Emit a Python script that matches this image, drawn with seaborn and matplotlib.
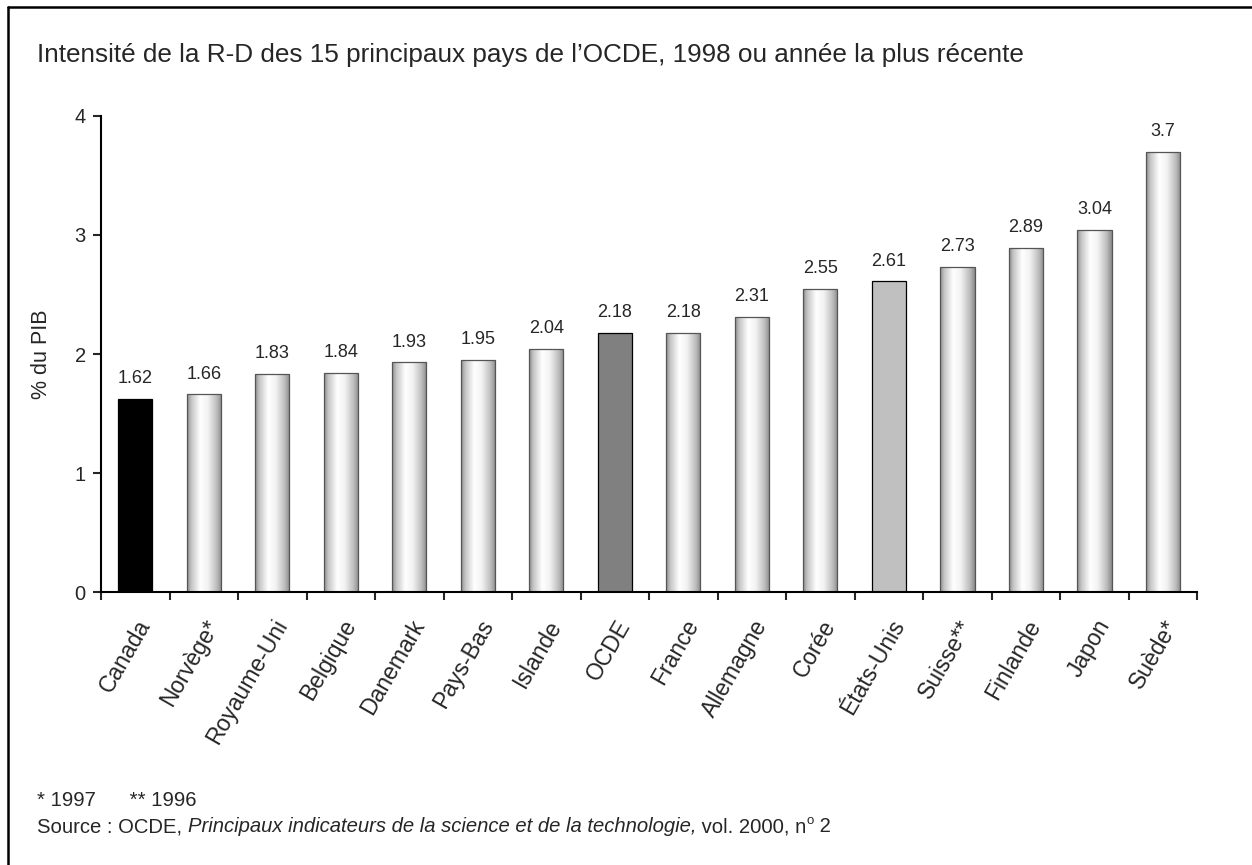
import numpy as np
import matplotlib
matplotlib.use("Agg")
import matplotlib.pyplot as plt
import seaborn as sns
from matplotlib.colors import LinearSegmentedColormap
from matplotlib.lines import Line2D

# Data
countries = ["Canada", "Norvège*", "Royaume-Uni", "Belgique", "Danemark", "Pays-Bas",
             "Islande", "OCDE", "France", "Allemagne", "Corée", "États-Unis",
             "Suisse**", "Finlande", "Japon", "Suède*"]
values = [1.62, 1.66, 1.83, 1.84, 1.93, 1.95, 2.04, 2.18, 2.18, 2.31, 2.55, 2.61,
          2.73, 2.89, 3.04, 3.7]
flat_colors = {"Canada": "#000000", "OCDE": "#808080", "États-Unis": "#c0c0c0"}

sns.set_style("white")
plt.rcParams["font.family"] = ["Liberation Sans", "DejaVu Sans"]

fig = plt.figure(figsize=(12.52, 8.65), dpi=100)
ax = fig.add_axes([0.0807, 0.3156, 0.8755, 0.5503])

palette = [flat_colors.get(c, "#ffffff") for c in countries]
sns.barplot(x=countries, y=values, hue=countries, palette=palette, legend=False,
            width=0.5, ax=ax, saturation=1)

# cylinder-like shading on the plain bars
shade = LinearSegmentedColormap.from_list(
    "shade", [(0, "#8c8c8c"), (0.12, "#c4c4c4"), (0.38, "#ffffff"),
              (0.6, "#f2f2f2"), (0.85, "#bdbdbd"), (1, "#8a8a8a")])
grad = np.linspace(0, 1, 256).reshape(1, -1)
for patch, name, val in zip(ax.patches, countries, values):
    patch.set_edgecolor("#000000" if name in flat_colors else "#555555")
    patch.set_linewidth(0.9)
    if name not in flat_colors:
        x0 = patch.get_x()
        w = patch.get_width()
        im = ax.imshow(grad, extent=[x0, x0 + w, 0, val], aspect="auto", cmap=shade,
                       zorder=patch.get_zorder() - 0.1, interpolation="bicubic")
        im.set_clip_path(patch)
        patch.set_facecolor("none")
    ax.annotate(f"{val:g}", (patch.get_x() + patch.get_width() / 2, val),
                xytext=(0, 8.5), textcoords="offset points", ha="center", va="bottom",
                fontsize=13)

ax.set_xlim(-0.5, len(countries) - 0.5)
ax.set_ylim(0, 4)
ax.set_yticks([0, 1, 2, 3, 4])
ax.set_xticks(range(len(countries)))
ax.set_xticklabels(countries, rotation=60, ha="right", rotation_mode="anchor")
ax.set_xticks(np.arange(-0.5, len(countries)), minor=True)
ax.tick_params(axis="x", which="major", length=0, pad=17, labelsize=16.5)
ax.tick_params(axis="x", which="minor", length=6, width=1.5, direction="out", bottom=True)
ax.tick_params(axis="y", length=6, width=1.5, direction="out", left=True, labelsize=14.5, pad=5)
ax.set_ylabel("% du PIB", fontsize=15.5, labelpad=16)
ax.set_xlabel("")
sns.despine(ax=ax)
for s in ["left", "bottom"]:
    ax.spines[s].set_linewidth(1.5)
    ax.spines[s].set_color("black")

fig.text(37 / 1252, 1 - 55 / 865, "Intensité de la R-D des 15 principaux pays de l’OCDE, 1998 ou année la plus récente",
         fontsize=18.8, va="center", ha="left")
fig.text(37 / 1252, 1 - 800 / 865, "* 1997      ** 1996", fontsize=14.6, va="center", ha="left")

# source line with italic title and superscript
fs = 14.6
y_src = 1 - 827 / 865
parts = [("Source : OCDE, ", "normal", fs, y_src),
         ("Principaux indicateurs de la science et de la technologie,", "italic", fs, y_src),
         (" vol. 2000, n", "normal", fs, y_src),
         ("o", "normal", 9.5, 1 - 821 / 865),
         (" 2", "normal", fs, y_src)]
xpos = 37 / 1252
for txt, st, size, yy in parts:
    t = fig.text(xpos, yy, txt, fontsize=size, style=st, va="center", ha="left")
    fig.canvas.draw()
    xpos = t.get_window_extent().x1 / fig.bbox.width

# outer frame (left and top edges visible)
fig.add_artist(Line2D([8 / 1252, 8 / 1252], [0, 1 - 7 / 865], color="black", lw=1.8, transform=fig.transFigure))
fig.add_artist(Line2D([8 / 1252, 1], [1 - 7 / 865, 1 - 7 / 865], color="black", lw=1.8, transform=fig.transFigure))

fig.savefig("out.png", dpi=100)
